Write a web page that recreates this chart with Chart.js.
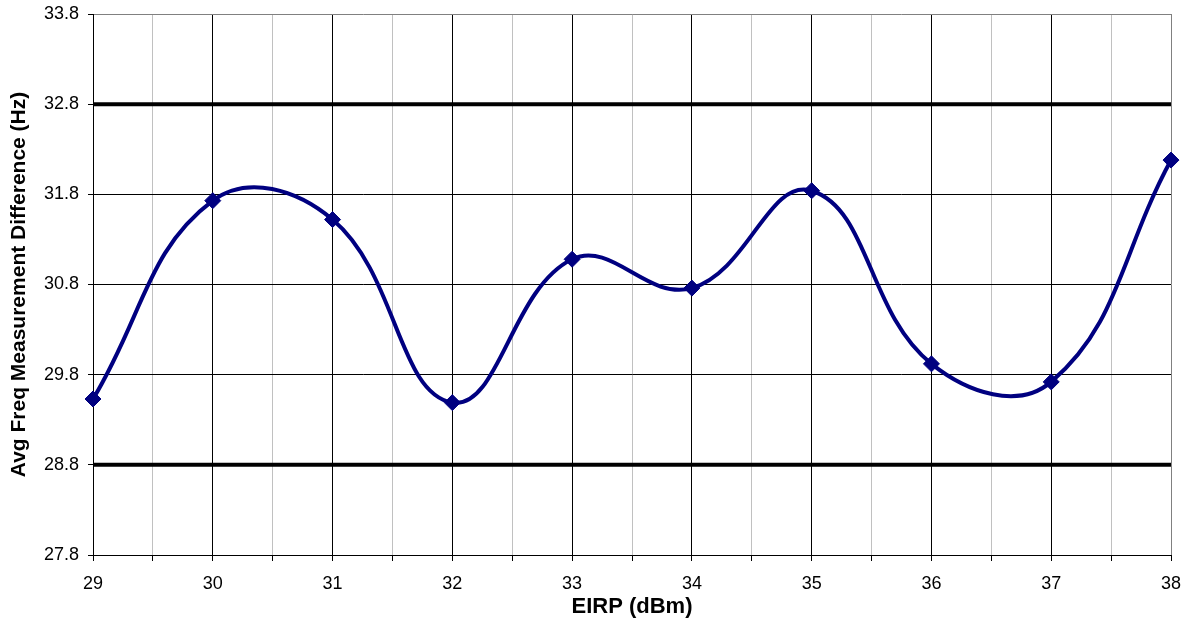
<!DOCTYPE html>
<html>
<head>
<meta charset="utf-8">
<script src="https://cdn.jsdelivr.net/npm/chart.js@4.4.0/dist/chart.umd.min.js"></script>
<style>
  html, body { margin: 0; padding: 0; background: #fff; }
  #wrap { width: 1192px; height: 627px; }
</style>
</head>
<body>
<div id="wrap"><canvas id="chart" width="1192" height="627"></canvas></div>
<script>
// Data
const eirp = [29, 30, 31, 32, 33, 34, 35, 36, 37, 38];
const avgFreqDiff = [29.53, 31.73, 31.52, 29.49, 31.08, 30.76, 31.84, 29.92, 29.72, 32.18];
const upperLimit = 32.8;
const lowerLimit = 28.8;
const xRange = [29, 38];
const yRange = [27.8, 33.8];

const FONT = '"Liberation Sans", Arial, Helvetica, sans-serif';

const points = eirp.map((x, i) => ({ x, y: avgFreqDiff[i] }));
const limitLine = v => [{ x: xRange[0], y: v }, { x: xRange[1], y: v }];

const ctx = document.getElementById('chart').getContext('2d');
new Chart(ctx, {
  type: 'line',
  data: {
    datasets: [
      {
        label: 'Avg Freq Measurement Difference',
        data: points,
        borderColor: '#000080',
        backgroundColor: '#000080',
        borderWidth: 4,
        tension: 0.42,
        pointStyle: 'rectRot',
        pointRadius: 8,
        pointBorderWidth: 1,
        clip: false
      },
      {
        label: 'Upper limit',
        data: limitLine(upperLimit),
        borderColor: '#000',
        borderWidth: 4,
        pointRadius: 0,
        tension: 0
      },
      {
        label: 'Lower limit',
        data: limitLine(lowerLimit),
        borderColor: '#000',
        borderWidth: 4,
        pointRadius: 0,
        tension: 0
      }
    ]
  },
  options: {
    responsive: false,
    animation: false,
    layout: { padding: { top: 14, right: 21, bottom: 0, left: 0 } },
    plugins: {
      legend: { display: false },
      tooltip: { enabled: false }
    },
    scales: {
      x: {
        type: 'linear',
        min: xRange[0],
        max: xRange[1],
        afterFit: s => { s.height = 72; s.paddingLeft = 0; s.paddingRight = 0; },
        ticks: {
          stepSize: 0.5,
          autoSkip: false,
          maxRotation: 0,
          padding: 12,
          color: '#000',
          font: { family: FONT, size: 18 },
          callback: v => Number.isInteger(v) ? String(v) : ''
        },
        grid: {
          drawTicks: true,
          tickLength: 6,
          color: c => {
            const v = c.tick && c.tick.value;
            if (v === xRange[1]) return '#808080';
            return Number.isInteger(v) ? '#000' : '#c0c0c0';
          },
          tickColor: '#000'
        },
        border: { color: '#000' },
        title: {
          display: true,
          text: 'EIRP (dBm)',
          color: '#000',
          font: { family: FONT, size: 22, weight: 'bold' },
          padding: { top: 0, bottom: 7 }
        }
      },
      y: {
        min: yRange[0],
        max: yRange[1],
        afterFit: s => { s.width = 93; s.paddingTop = 0; s.paddingBottom = 0; },
        ticks: {
          stepSize: 1,
          padding: 9,
          color: '#000',
          font: { family: FONT, size: 18 },
          callback: v => v.toFixed(1)
        },
        grid: {
          tickLength: 5,
          color: c => {
            const v = c.tick && c.tick.value;
            return Math.abs(v - yRange[1]) < 1e-6 ? '#808080' : '#000';
          },
          tickColor: '#000'
        },
        border: { color: '#000' },
        title: {
          display: true,
          text: 'Avg Freq Measurement Difference (Hz)',
          color: '#000',
          font: { family: FONT, size: 21, weight: 'bold' },
          padding: { top: 7, bottom: 0 }
        }
      }
    }
  }
});
</script>
</body>
</html>
